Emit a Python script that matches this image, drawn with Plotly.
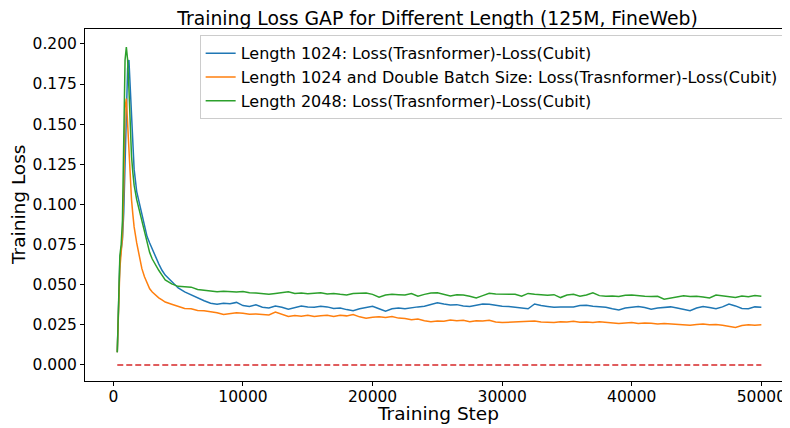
import plotly.graph_objects as go

steps_early = [300, 400, 500, 600, 700, 800, 900, 1000, 1100, 1200, 1300, 1400, 1500, 1600,
               1800, 2000, 2200, 2400, 2600, 2800, 3000, 3250, 3500, 3750, 4000, 4500]
steps_late = list(range(5000, 50001, 500))
steps = steps_early + steps_late

len1024 = [0.008, 0.045, 0.065, 0.072, 0.078, 0.095, 0.130, 0.165, 0.185, 0.190, 0.175, 0.160, 0.140, 0.122,
           0.108, 0.101, 0.093, 0.086, 0.080, 0.076, 0.072, 0.067, 0.063, 0.059, 0.056, 0.052,
           0.0480, 0.0455, 0.0435, 0.0415, 0.0400, 0.0385, 0.0378, 0.0385, 0.0382, 0.0390,
           0.0370, 0.0365, 0.0375, 0.0360, 0.0355, 0.0368, 0.0360, 0.0347, 0.0358, 0.0368,
           0.0362, 0.0360, 0.0366, 0.0362, 0.0352, 0.0355, 0.0345, 0.0338, 0.0350, 0.0358,
           0.0366, 0.0350, 0.0335, 0.0350, 0.0355, 0.0350, 0.0358, 0.0362, 0.0366, 0.0375,
           0.0388, 0.0380, 0.0374, 0.0376, 0.0368, 0.0365, 0.0372, 0.0380, 0.0378, 0.0370,
           0.0366, 0.0364, 0.0358, 0.0355, 0.0350, 0.0380, 0.0370, 0.0365, 0.0360, 0.0362,
           0.0364, 0.0362, 0.0370, 0.0372, 0.0366, 0.0364, 0.0360, 0.0350, 0.0343, 0.0355,
           0.0362, 0.0365, 0.0358, 0.0347, 0.0355, 0.0360, 0.0362, 0.0355, 0.0345, 0.0338,
           0.0355, 0.0365, 0.0358, 0.0350, 0.0362, 0.0380, 0.0368, 0.0352, 0.0350, 0.0362,
           0.0360]

len1024_double = [0.008, 0.040, 0.060, 0.070, 0.080, 0.110, 0.160, 0.166, 0.150, 0.128, 0.114, 0.103, 0.094, 0.086,
                  0.076, 0.067, 0.060, 0.055, 0.051, 0.0475, 0.0455, 0.0435, 0.0418, 0.0405, 0.0392, 0.0378,
                  0.0365, 0.0352, 0.0350, 0.0340, 0.0338, 0.0332, 0.0326, 0.0314, 0.0318, 0.0325,
                  0.0322, 0.0316, 0.0318, 0.0314, 0.0312, 0.0330, 0.0315, 0.0302, 0.0308, 0.0304,
                  0.0310, 0.0302, 0.0306, 0.0310, 0.0302, 0.0310, 0.0306, 0.0314, 0.0300, 0.0292,
                  0.0298, 0.0300, 0.0296, 0.0302, 0.0292, 0.0290, 0.0282, 0.0286, 0.0276, 0.0270,
                  0.0274, 0.0272, 0.0280, 0.0276, 0.0278, 0.0270, 0.0276, 0.0274, 0.0278, 0.0268,
                  0.0264, 0.0266, 0.0272, 0.0270, 0.0272, 0.0274, 0.0268, 0.0266, 0.0264, 0.0270,
                  0.0268, 0.0272, 0.0266, 0.0268, 0.0264, 0.0270, 0.0266, 0.0262, 0.0258, 0.0262,
                  0.0264, 0.0258, 0.0262, 0.0260, 0.0256, 0.0258, 0.0255, 0.0254, 0.0250, 0.0248,
                  0.0252, 0.0255, 0.0250, 0.0252, 0.0248, 0.0240, 0.0234, 0.0246, 0.0250, 0.0248,
                  0.0250]

len2048 = [0.008, 0.050, 0.068, 0.075, 0.090, 0.140, 0.190, 0.198, 0.190, 0.172, 0.150, 0.130, 0.120, 0.112,
           0.103, 0.096, 0.089, 0.082, 0.076, 0.070, 0.066, 0.062, 0.059, 0.056, 0.053, 0.0505,
           0.0490, 0.0488, 0.0485, 0.0470, 0.0465, 0.0458, 0.0456, 0.0460, 0.0458, 0.0455,
           0.0458, 0.0450, 0.0448, 0.0446, 0.0440, 0.0446, 0.0450, 0.0456, 0.0446, 0.0448,
           0.0444, 0.0446, 0.0450, 0.0442, 0.0446, 0.0440, 0.0436, 0.0446, 0.0445, 0.0448,
           0.0440, 0.0422, 0.0436, 0.0440, 0.0438, 0.0436, 0.0445, 0.0428, 0.0440, 0.0448,
           0.0450, 0.0440, 0.0430, 0.0438, 0.0436, 0.0428, 0.0418, 0.0432, 0.0447, 0.0442,
           0.0440, 0.0438, 0.0440, 0.0428, 0.0446, 0.0440, 0.0436, 0.0434, 0.0438, 0.0420,
           0.0436, 0.0440, 0.0428, 0.0436, 0.0450, 0.0432, 0.0428, 0.0430, 0.0426, 0.0434,
           0.0436, 0.0430, 0.0428, 0.0426, 0.0428, 0.0410, 0.0418, 0.0428, 0.0432, 0.0426,
           0.0428, 0.0424, 0.0418, 0.0436, 0.0432, 0.0428, 0.0420, 0.0430, 0.0425, 0.0433,
           0.0428]

baseline_steps = [300, 50000]
baseline_vals = [0.0, 0.0]

series_names = [
    "Length 1024: Loss(Trasnformer)-Loss(Cubit)",
    "Length 1024 and Double Batch Size: Loss(Trasnformer)-Loss(Cubit)",
    "Length 2048: Loss(Trasnformer)-Loss(Cubit)",
]
series_vals = [len1024, len1024_double, len2048]
colors = ["#1f77b4", "#ff7f0e", "#2ca02c"]

x_ticks = [0, 10000, 20000, 30000, 40000, 50000]
y_ticks = [0.0, 0.025, 0.05, 0.075, 0.1, 0.125, 0.15, 0.175, 0.2]

FONT = "DejaVu Sans"

fig = go.Figure()
for i, (name, vals, c) in enumerate(zip(series_names, series_vals, colors)):
    fig.add_trace(go.Scatter(x=steps, y=vals, mode="lines", name=name, legendgroup=f"g{i}",
                             line=dict(color=c, width=1.5)))
fig.add_trace(go.Scatter(x=baseline_steps, y=baseline_vals, mode="lines", showlegend=False,
                         line=dict(color="#d62728", width=1.5, dash="6px,3px")))

axis_common = dict(showline=True, linecolor="black", linewidth=1, mirror=True,
                   ticks="outside", ticklen=4, tickwidth=1, tickcolor="black",
                   showgrid=False, zeroline=False, automargin=False,
                   tickfont=dict(family=FONT, size=15.5, color="black"))

# The page body adds an 8px offset, so the figure is drawn 8px smaller.
fig.update_layout(
    width=782, height=420,
    margin=dict(l=77, r=0, t=21, b=47),
    paper_bgcolor="white", plot_bgcolor="white",
    font=dict(family=FONT, color="black"),
    title=dict(text="Training Loss GAP for Different Length (125M, FineWeb)",
               x=0.5, xref="paper", xanchor="center",
               y=1 - 10 / 420, yref="container", yanchor="middle",
               font=dict(family=FONT, size=18.8, color="black")),
    xaxis=dict(range=[-2190, 52210], tickvals=x_ticks, ticktext=[str(v) for v in x_ticks],
               ticklabelstandoff=-3, **axis_common),
    yaxis=dict(range=[-0.00997, 0.2093], tickvals=y_ticks, tickformat=".3f",
               **axis_common),
    legend=dict(x=0.991, y=0.982, xanchor="right", yanchor="top",
                bgcolor="rgba(255,255,255,0.8)", bordercolor="#cccccc", borderwidth=1,
                font=dict(family=FONT, size=16, color="black"),
                itemwidth=30, tracegroupgap=0),
    annotations=[
        dict(text="Training Step", xref="paper", yref="paper", x=0.5, y=0,
             xanchor="center", yanchor="middle", yshift=-32, showarrow=False,
             font=dict(family=FONT, size=18.5, color="black")),
        dict(text="Training Loss", xref="paper", yref="paper", x=0, y=0.5,
             xanchor="center", yanchor="middle", xshift=-67, textangle=-90, showarrow=False,
             font=dict(family=FONT, size=18.5, color="black")),
    ],
)

fig.write_html("out.html")
